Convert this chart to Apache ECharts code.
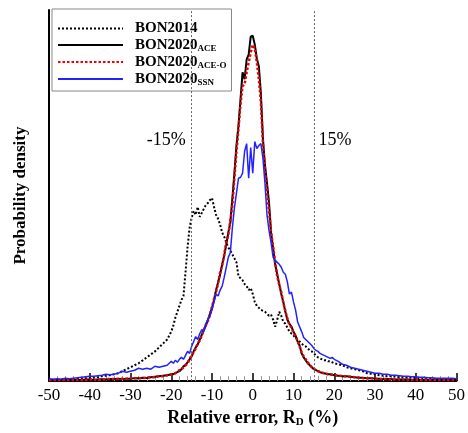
<!DOCTYPE html>
<html><head><meta charset="utf-8">
<script src="https://cdn.jsdelivr.net/npm/echarts@6/dist/echarts.min.js"></script>
<style>html,body{margin:0;padding:0;background:#fff}#c{width:468px;height:433px}</style>
</head><body><div id="c"></div>
<script>
// Relative error bins (%)
const xs = [
  -50,-49,-48,-47,-46,-45,-44,-43,-42,-41,
  -40,-39,-38,-37,-36,-35,-34,-33,-32,-31,
  -30,-29,-28,-27,-26,-25,-24,-23,-22,-21,
  -20,-19.5,-19,-18.5,-18,-17.5,-17,-16.5,-16,-15.5,
  -15,-14.5,-14,-13.5,-13,-12.5,-12,-11.5,-11,-10.5,
  -10,-9.5,-9,-8.5,-8,-7.5,-7,-6.5,-6,-5.5,
  -5,-4.5,-4,-3.5,-3,-2.5,-2,-1.5,-1,-0.5,
  0,0.5,1,1.5,2,2.5,3,3.5,4,4.5,
  5,5.5,6,6.5,7,7.5,8,8.5,9,9.5,
  10,10.5,11,11.5,12,12.5,13,13.5,14,14.5,
  15,15.5,16,16.5,17,17.5,18,18.5,19,19.5,
  20,21,22,23,24,25,26,27,28,29,
  30,31,32,33,34,35,36,37,38,39,
  40,41,42,43,44,45,46,47,48,49,
  50
];
// Probability density (arbitrary units, x1000)
const bon2014 = [
  1,1,1.5,1.5,1.5,2,2,2.5,2.5,3,
  3,3.5,4,5,5.5,6,7,8,10,12,
  14,16,18,21,24,27,30,34,38,42,
  50,56,64,70,76,82,86,110,135,155,
  165,172,168,176,166,170,174,178,180,183,
  185,176,168,164,158,150,146,140,135,132,
  128,124,120,106,104,102,98,96,92,94,
  88,80,76,74,72,71,70,68,66,67,
  62,55,62,70,66,60,58,54,50,48,
  46,44,42,40,38,36,35,33,31,30,
  28,26,24,23,22,21,21,20,20,19,
  18,17,16,14,13,12,11,10,8,7.5,
  7,6,5.5,5,5,4.5,4,4,3.5,3.5,
  3,3,2.5,2.5,2,2,2,1.5,1.5,1.5,
  1
];
const bon2020Ace = [
  1,1,1,1,1,1,1,1,1,1.5,
  1.5,1,1.5,2,1.5,2,2,2.5,2,2.5,
  2.5,3,3,3.5,3,4,4.5,5,5.5,6,
  7,7,8,9,10,12,15,16,19,22,
  25,30,34,37,42,47,52,56,62,68,
  74,82,92,100,108,118,127,138,150,160,
  185,210,238,258,285,312,305,325,330,348,
  349,340,326,318,290,245,218,200,180,150,
  134,118,108,98,88,80,70,62,58,55,
  50,46,40,36,28,24,21,18,16,14,
  12,11,10,9,8.5,8,7.5,7,7,6.5,
  6,5.5,5,5,4.5,4,3.5,3.5,3,3,
  2.5,2.5,2,2,2,1.5,1.5,1.5,1.5,1,
  1,1,1,1,1,1,1,1,1,1,
  1
];
const bon2020AceO = [
  1,1,1,1,1,1,1,1,1,1,
  1.5,1.5,1,1.5,2,2,2,2,2.5,2.5,
  3,3,3,3,3.5,4,4,5,5,6,
  6.5,7.5,8,9,11,12,14,16,18,22,
  26,29,33,38,41,46,52,57,61,67,
  75,83,90,99,110,117,128,140,148,162,
  178,205,232,255,280,298,300,312,322,332,
  340,336,322,305,282,240,215,192,172,150,
  136,120,106,97,90,79,71,63,57,54,
  49,45,41,35,29,25,22,19,16,14,
  12.5,11,10,9.5,8.5,8,7.5,7,6.5,6.5,
  6,5.5,5,4.5,4.5,4,3.5,3,3,3,
  2.5,2,2,2,1.5,1.5,1.5,1.5,1,1,
  1,1,1,1,1,1,1,1,1,1,
  1
];
const bon2020Ssn = [
  2,2,2.5,2,3,2.5,3,3.5,4,4.5,
  5,5,5.5,6,7,6.5,7,8,10,9,
  10,11,13,12,13,12,15,14,15,16,
  20,18,21,19,22,24,22,26,30,28,
  35,40,45,42,48,52,50,58,62,66,
  72,80,88,86,92,96,105,115,125,130,
  155,175,190,205,206,210,232,240,205,236,
  210,242,235,238,240,225,200,168,152,140,
  125,122,120,118,115,110,108,100,88,90,
  80,72,60,55,50,44,42,40,38,36,
  33,31,30,28,27,26,25,24,23,24,
  22,20,17,16,14,13,12,11,10,9,
  8,8,7,7,6,6,5.5,5,5,4.5,
  4.5,4,4,3.5,3.5,3,3,3,3,3,
  2.5
];
const seriesNames = ['BON2014', 'BON2020ACE', 'BON2020ACE-O', 'BON2020SSN'];
const legendMain = ['BON2014', 'BON2020', 'BON2020', 'BON2020'];
const legendSub = ['', 'ACE', 'ACE-O', 'SSN'];
const refLines = [-15, 15];
const refLabelText = ['-15%', '15%'];
const refLabelX = [-21.2, 20.2];
const refLabelY = [243, 243];

const SERIF = 'Liberation Serif';
const pairs = arr => xs.map((x, i) => [x, arr[i]]);

const chart = echarts.init(document.getElementById('c'), null, {renderer: 'canvas'});
const option = {
  animation: false,
  backgroundColor: '#fff',
  grid: {left: 49, right: 9, top: 10, bottom: 48},
  legend: {
    orient: 'vertical', left: 52, top: 9,
    padding: [12, 5, 4, 5],
    itemWidth: 65, itemHeight: 14, itemGap: 1.5,
    borderColor: '#888', borderWidth: 1,
    backgroundColor: '#fff',
    itemStyle: {opacity: 0},
    data: seriesNames,
    formatter: name => {
      const i = seriesNames.indexOf(name);
      return '{b|' + legendMain[i] + '}' + (legendSub[i] ? '{s|' + legendSub[i] + '}' : '');
    },
    textStyle: {
      padding: [0, 0, 0, 7],
      rich: {
        b: {fontFamily: SERIF, fontWeight: 'bold', fontSize: 15, color: '#000', lineHeight: 16},
        s: {fontFamily: SERIF, fontWeight: 'bold', fontSize: 9, color: '#000', verticalAlign: 'bottom', lineHeight: 9}
      }
    }
  },
  xAxis: {
    type: 'value', min: -50, max: 50, interval: 10,
    name: '{b|Relative error, R}{s|D}{b| (%)}',
    nameLocation: 'middle', nameGap: 25,
    nameTextStyle: {
      rich: {
        b: {fontFamily: SERIF, fontWeight: 'bold', fontSize: 18, color: '#000', lineHeight: 20},
        s: {fontFamily: SERIF, fontWeight: 'bold', fontSize: 11, color: '#000', verticalAlign: 'bottom', lineHeight: 11, padding: [6, 0, 0, 0]}
      }
    },
    axisLine: {onZero: false, lineStyle: {color: '#000', width: 2}},
    axisTick: {inside: true, length: 8, lineStyle: {color: '#000', width: 1.5}},
    minorTick: {show: true, splitNumber: 5, length: 5, lineStyle: {color: '#999', width: 1}},
    axisLabel: {fontFamily: SERIF, fontSize: 17, color: '#000', margin: 6},
    splitLine: {show: false}
  },
  yAxis: {
    type: 'value', min: 0, max: 375,
    name: 'Probability density',
    nameLocation: 'middle', nameGap: 20,
    nameTextStyle: {fontFamily: SERIF, fontWeight: 'bold', fontSize: 17, color: '#000'},
    axisLine: {show: true, onZero: false, lineStyle: {color: '#000', width: 2}},
    axisTick: {show: false}, axisLabel: {show: false}, splitLine: {show: false}
  },
  series: [
    {
      name: seriesNames[0], type: 'line', data: pairs(bon2014), symbol: 'none',
      lineStyle: {color: '#000', width: 2, type: [2, 2]}, itemStyle: {color: '#000'},
      markLine: {
        silent: true, symbol: 'none', label: {show: false},
        lineStyle: {color: '#666', width: 1, type: [2, 2]},
        data: refLines.map(v => ({xAxis: v}))
      },
      markPoint: {
        silent: true, symbol: 'circle', symbolSize: 0,
        label: {show: true, position: 'inside', formatter: '{b}', fontFamily: SERIF, fontSize: 18, color: '#000'},
        data: refLabelText.map((t, i) => ({name: t, coord: [refLabelX[i], refLabelY[i]]}))
      }
    },
    {
      name: seriesNames[1], type: 'line', data: pairs(bon2020Ace), symbol: 'none',
      lineStyle: {color: '#000', width: 2}, itemStyle: {color: '#000'}
    },
    {
      name: seriesNames[2], type: 'line', data: pairs(bon2020AceO), symbol: 'none',
      lineStyle: {color: '#ee0000', width: 2.5, type: [2.5, 2]}, itemStyle: {color: '#ee0000'}
    },
    {
      name: seriesNames[3], type: 'line', data: pairs(bon2020Ssn), symbol: 'none',
      lineStyle: {color: '#2222ff', width: 1.5}, itemStyle: {color: '#2222ff'}
    }
  ]
};
chart.setOption(option);
</script>
</body></html>
